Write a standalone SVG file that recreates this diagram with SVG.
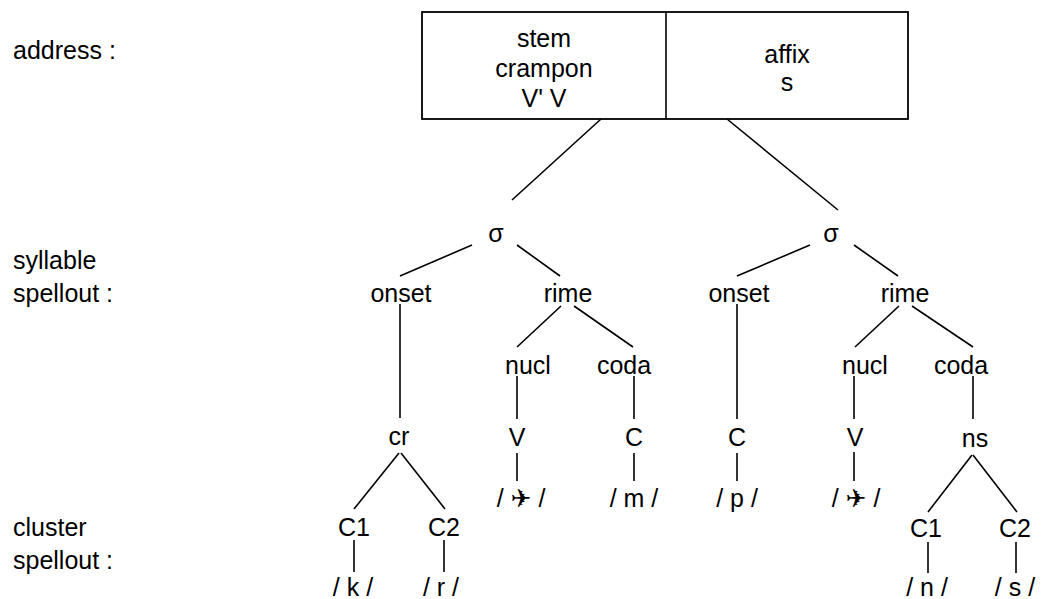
<svg xmlns="http://www.w3.org/2000/svg" width="1045" height="599" viewBox="0 0 1045 599">
  <style>
    text { font-family: "Liberation Sans", Arial, sans-serif; font-size: 25px; fill: #000; }
    .c { text-anchor: middle; }
    .edge { stroke: #000; stroke-width: 1.6; fill: none; stroke-linecap: butt; }
    .box { stroke: #000; stroke-width: 1.8; fill: #fff; }
    .sym { font-family: "Liberation Sans", "DejaVu Sans", sans-serif; }
  </style>

  <!-- level labels -->
  <g id="level-labels">
    <text x="13" y="59">address :</text>
    <text x="13" y="269">syllable</text>
    <text x="13" y="302">spellout :</text>
    <text x="13" y="536">cluster</text>
    <text x="13" y="569">spellout :</text>
  </g>

  <!-- address box: stem | affix -->
  <g id="address">
    <rect class="box" x="422" y="12" width="486" height="107"/>
    <line class="edge" x1="666" y1="12" x2="666" y2="119" stroke-width="1.8"/>
  </g>
  <g id="stem">
    <text class="c" x="544" y="47">stem</text>
    <text class="c" x="544" y="77">crampon</text>
    <text class="c" x="544" y="107">V' V</text>
  </g>
  <g id="affix">
    <text class="c" x="787" y="63">affix</text>
    <text class="c" x="787" y="91">s</text>
  </g>

  <!-- tree edges -->
  <g id="connectors">
    <line class="edge" x1="601" y1="119" x2="512" y2="200"/>
    <line class="edge" x1="727" y1="119" x2="838" y2="210"/>

    <!-- left syllable -->
    <line class="edge" x1="472" y1="245" x2="400" y2="276"/>
    <line class="edge" x1="517" y1="245" x2="560" y2="276"/>
    <line class="edge" x1="400" y1="304" x2="400" y2="418"/>
    <line class="edge" x1="561" y1="306" x2="517" y2="347"/>
    <line class="edge" x1="574" y1="306" x2="633" y2="347"/>
    <line class="edge" x1="517" y1="376" x2="517" y2="419"/>
    <line class="edge" x1="634" y1="376" x2="634" y2="419"/>
    <line class="edge" x1="517" y1="453" x2="517" y2="481"/>
    <line class="edge" x1="634" y1="453" x2="634" y2="481"/>
    <line class="edge" x1="399" y1="453" x2="354" y2="509"/>
    <line class="edge" x1="401" y1="453" x2="445" y2="509"/>
    <line class="edge" x1="354" y1="540" x2="354" y2="572"/>
    <line class="edge" x1="444" y1="540" x2="444" y2="572"/>

    <!-- right syllable -->
    <line class="edge" x1="810" y1="245" x2="737" y2="276"/>
    <line class="edge" x1="854" y1="245" x2="898" y2="276"/>
    <line class="edge" x1="737" y1="304" x2="737" y2="419"/>
    <line class="edge" x1="737" y1="453" x2="737" y2="481"/>
    <line class="edge" x1="899" y1="306" x2="855" y2="347"/>
    <line class="edge" x1="912" y1="306" x2="973" y2="347"/>
    <line class="edge" x1="854" y1="376" x2="854" y2="419"/>
    <line class="edge" x1="854" y1="452" x2="854" y2="481"/>
    <line class="edge" x1="973" y1="376" x2="973" y2="419"/>
    <line class="edge" x1="972" y1="455" x2="928" y2="512"/>
    <line class="edge" x1="973" y1="455" x2="1017" y2="512"/>
    <line class="edge" x1="928" y1="542" x2="928" y2="573"/>
    <line class="edge" x1="1016" y1="542" x2="1016" y2="573"/>
  </g>

  <!-- left syllable nodes -->
  <g id="sigma-1"><text class="c" x="496" y="242">σ</text></g>
  <g id="onset-1"><text class="c" x="401" y="302">onset</text></g>
  <g id="rime-1"><text class="c" x="568" y="302">rime</text></g>
  <g id="nucl-1"><text class="c" x="528" y="374">nucl</text></g>
  <g id="coda-1"><text class="c" x="624" y="374">coda</text></g>
  <g id="cr"><text class="c" x="399" y="445">cr</text></g>
  <g id="V-1"><text class="c" x="517" y="446">V</text></g>
  <g id="C-1"><text class="c" x="634" y="446">C</text></g>
  <g id="seg-v1"><text class="c sym" x="521" y="507">/ ✈ /</text></g>
  <g id="seg-m"><text class="c" x="634" y="507">/ m /</text></g>
  <g id="C1-1"><text class="c" x="354" y="536">C1</text></g>
  <g id="C2-1"><text class="c" x="444" y="536">C2</text></g>
  <g id="seg-k"><text class="c" x="353" y="596">/ k /</text></g>
  <g id="seg-r"><text class="c" x="441" y="596">/ r /</text></g>

  <!-- right syllable nodes -->
  <g id="sigma-2"><text class="c" x="831" y="242">σ</text></g>
  <g id="onset-2"><text class="c" x="739" y="302">onset</text></g>
  <g id="rime-2"><text class="c" x="905" y="302">rime</text></g>
  <g id="nucl-2"><text class="c" x="865" y="374">nucl</text></g>
  <g id="coda-2"><text class="c" x="961" y="374">coda</text></g>
  <g id="C-2"><text class="c" x="737" y="446">C</text></g>
  <g id="V-2"><text class="c" x="855" y="446">V</text></g>
  <g id="ns"><text class="c" x="975" y="447">ns</text></g>
  <g id="seg-p"><text class="c" x="737" y="507">/ p /</text></g>
  <g id="seg-v2"><text class="c sym" x="856" y="507">/ ✈ /</text></g>
  <g id="C1-2"><text class="c" x="926" y="537">C1</text></g>
  <g id="C2-2"><text class="c" x="1015" y="537">C2</text></g>
  <g id="seg-n"><text class="c" x="927" y="596">/ n /</text></g>
  <g id="seg-s"><text class="c" x="1015" y="596">/ s /</text></g>
</svg>
